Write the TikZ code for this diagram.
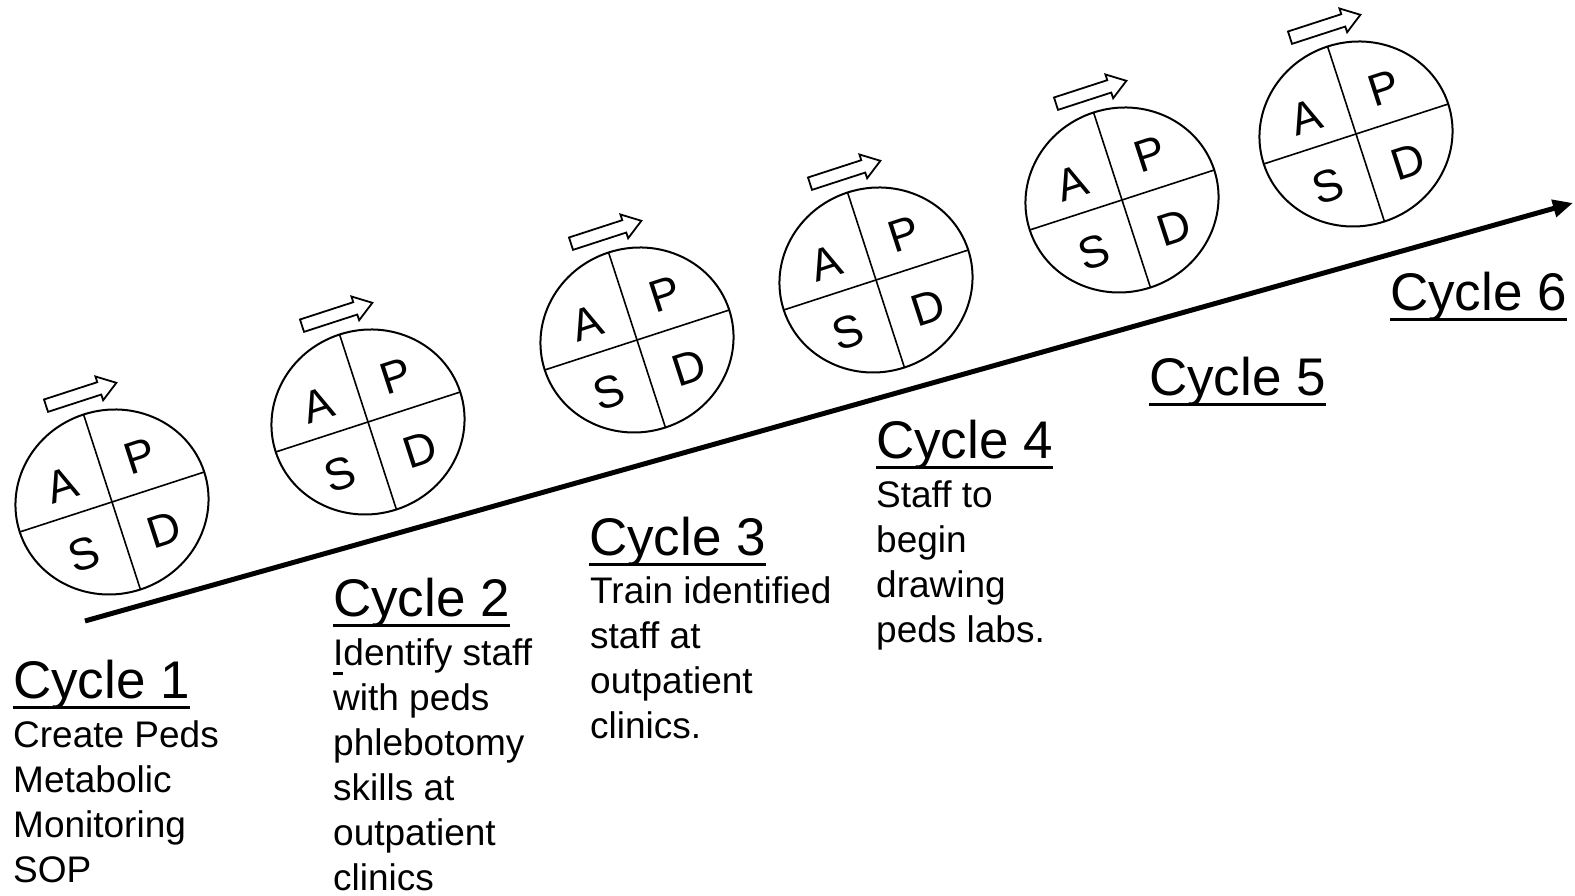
\documentclass[tikz,border=0pt]{standalone}
\usepackage{fontspec}
\setmainfont{Liberation Sans}
\usetikzlibrary{arrows.meta}
\newcommand{\ultext}[1]{\setbox0\hbox{#1}\rlap{\rule[-10pt]{\wd0}{3pt}}\box0}
\def\pdsa#1(#2,#3){%
	\begin{scope}[shift={(#2,#3)}, rotate=18, transform shape]
		\draw[rim] (0,0) ellipse (97 and 92);
		\draw[cross] (-97,0) -- (97,0);
		\draw[cross] (0,-92) -- (0,92);
		\node[quad] (a#1) at (-42,31) {A};
		\node[quad] (p#1) at (41,35) {P};
		\node[quad] (s#1) at (-43,-41) {S};
		\node[quad] (d#1) at (41,-42) {D};
		\draw[turn] (-33,105.5) -- (23,105.5) -- (23,99.5) -- (41,112) -- (23,124.5) -- (23,118.5) -- (-33,118.5) -- cycle;
	\end{scope}}
\tikzset{
	rim/.style={line width=2pt},
	cross/.style={line width=1.6pt},
	quad/.style={font=\fontsize{45}{50}\selectfont, inner sep=0pt},
	turn/.style={line width=1.8pt, fill=white, line join=miter},
	timeline/.style={line width=5pt, -{Triangle[length=20pt,width=17pt]}},
	cyctitle/.style={font=\fontsize{53}{60}\selectfont, anchor=base west, inner sep=0pt},
	cycbody/.style={font=\fontsize{37}{45}\selectfont, anchor=north west, align=left, inner sep=0pt}
}
\begin{document}
\begin{tikzpicture}[x=1pt, y=1pt]
			%%%%% START %%%%%
			\useasboundingbox (0,0) rectangle (1575,896);
			
			\coordinate (start) at (85,275);
			\coordinate (end) at (1573,693);
			\draw[timeline] (start) -- (end);
			
			\pdsa1(112,394)
			\pdsa2(368,474)
			\pdsa3(637,556)
			\pdsa4(876,616)
			\pdsa5(1122,696)
			\pdsa6(1356,762)
			
			\node[cyctitle] (t1) at (13,197) {\ultext{Cycle 1}};
			\node[cycbody] (b1) at (13,176) {Create Peds\\Metabolic\\Monitoring\\SOP};
			
			\node[cyctitle] (t2) at (333,279) {\ultext{Cycle 2}};
			\node[cycbody] (b2) at (333,258) {\ultext{I}dentify staff\\with peds\\phlebotomy\\skills at\\outpatient\\clinics};
			
			\node[cyctitle] (t3) at (589,340) {\ultext{Cycle 3}};
			\node[cycbody] (b3) at (590,320) {Train identified\\staff at\\outpatient\\clinics.};
			
			\node[cyctitle] (t4) at (876,437) {\ultext{Cycle 4}};
			\node[cycbody] (b4) at (876,415) {Staff to\\begin\\drawing\\peds labs.};
			
			\node[cyctitle] (t5) at (1149,500) {\ultext{Cycle 5}};
			\node[cyctitle] (t6) at (1390,585) {\ultext{Cycle 6}};
			
			%%%%% END %%%%%
		\end{tikzpicture}
\end{document}
